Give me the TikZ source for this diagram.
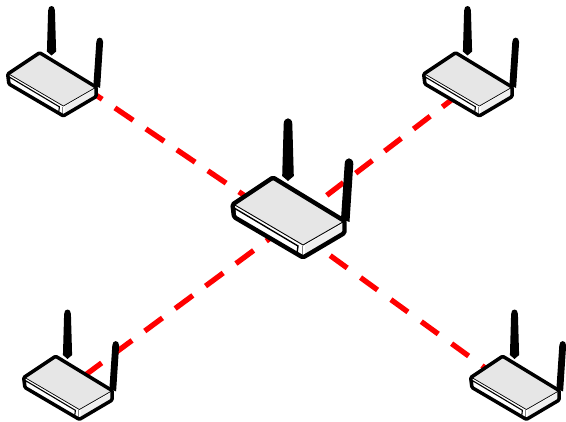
\documentclass[tikz,border=0pt]{standalone}
\definecolor{topgray}{HTML}{E6E6E6}
\definecolor{sidegray}{HTML}{EFEFEF}
\tikzset{
  x=1pt,y=-1pt,
  link/.style={draw=red,line width=5.3pt},
  routerpic/.pic={
    \pgfmathsetmacro{\k}{#1}
    % antennas
    \fill[black] (283.7,124) .. controls (283.7,116.5) and (292.3,116.5) .. (292.3,124) -- (293.8,176) -- (288,181) -- (282.2,176) -- cycle;
    \fill[black] (344.7,164) .. controls (344.7,156.5) and (353.3,156.5) .. (353.3,164) -- (349.5,222) -- (341,219) -- cycle;
    % body
    \fill[white] (232.5,204.5) -- (273,178) -- (344.5,221) -- (344.5,233) -- (303,257.5) -- (234,217) -- cycle;
    \fill[topgray] (234,204.5) -- (273,179) -- (343,222) -- (303,245) -- cycle;
    \draw[black,line width=.9pt*\k] (234,204.5) -- (303,245) -- (343,222);
    \fill[sidegray] (305,245.5) -- (343,223.5) -- (343,232) -- (305,255) -- cycle;
    \draw[black,line width=1.4pt*\k,fill=white] (235,208.5) -- (298,246) -- (297,253.5) -- (235,217) -- cycle;
    \draw[gray,line width=.7pt*\k] (302,246) -- (302,256);
    \draw[black,line width=4.4pt*\k,line join=round,rounded corners=1.5pt*\k]
      (232.5,204.5) -- (273,177.5) -- (344.5,221) -- (344.5,233) -- (303,257.5) -- (234,217) -- cycle;
  }
}
\newcommand{\routerat}[3]{% offset x, offset y, scale
  \begin{scope}[shift={(#1,#2)},scale=#3]
    \pic[transform shape] {routerpic=#3};
  \end{scope}}
\begin{document}
\begin{tikzpicture}
\useasboundingbox (0,0) rectangle (566,422);
\node[coordinate] (hub) at (288,225) {};
\node[coordinate] (nw) at (53,66) {};
\node[coordinate] (ne) at (488,72) {};
\node[coordinate] (sw) at (84,376) {};
\node[coordinate] (se) at (499,378) {};
\draw[link,dash pattern=on 22pt off 15.4pt] (nw) -- (hub);
\draw[link,dash pattern=on 21pt off 15.4pt] (ne) -- (hub);
\draw[link,dash pattern=on 22pt off 15.8pt] (sw) -- (hub);
\draw[link,dash pattern=on 21pt off 16.5pt] (se) -- (hub);
\routerat{-176}{-87.5}{0.79}
\routerat{240}{-87.5}{0.79}
\routerat{-160}{216}{0.79}
\routerat{287}{216}{0.79}
\routerat{0}{0}{1}
\end{tikzpicture}
\end{document}
